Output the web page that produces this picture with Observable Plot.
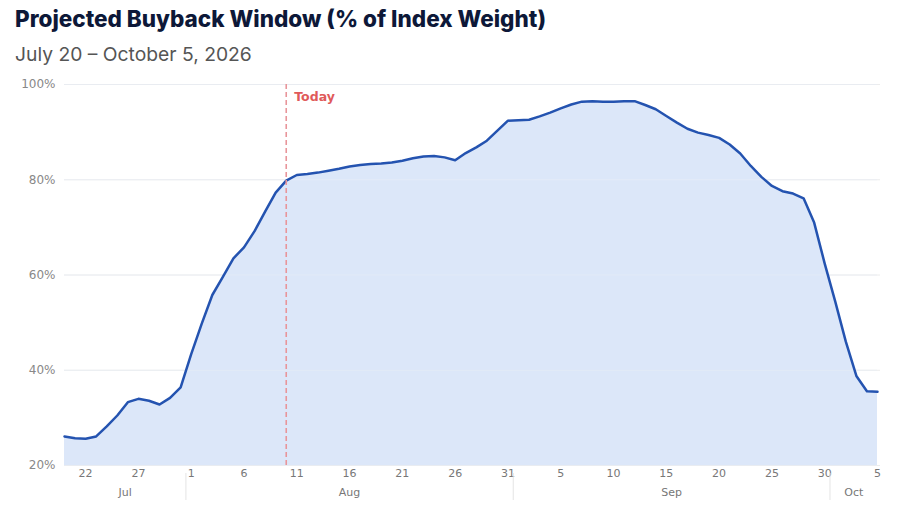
<!DOCTYPE html>
<html><head><meta charset="utf-8">
<script src="https://cdn.jsdelivr.net/npm/d3@7"></script>
<script src="https://cdn.jsdelivr.net/npm/@observablehq/plot@0.6"></script>
<style>
body{margin:0;background:#fff;width:905px;height:520px;overflow:hidden;font-family:"DejaVu Sans",sans-serif}
#title{position:absolute;left:15px;top:5px;font:800 22.5px Inter,sans-serif;color:#0d1838;white-space:nowrap}
#sub{position:absolute;left:15px;top:42px;font:400 19.3px Inter,sans-serif;color:#555;white-space:nowrap}
#chart{position:absolute;left:0;top:76px}
</style></head><body>
<div id="title">Projected Buyback Window (% of Index Weight)</div>
<div id="sub">July 20 – October 5, 2026</div>
<div id="chart"></div>
<script>
const startDate = "2026-07-20";
const endDate = "2026-10-05";
const todayDate = "2026-08-10";
// daily values, Jul 20 .. Oct 5
const values = [
  26.1, 25.7, 25.6, 26.1, 28.2, 30.5, 33.3, 34.0, 33.6, 32.8, 34.2, 36.4,
  43.4, 49.8, 55.8, 59.6, 63.5, 65.8, 69.2, 73.3, 77.3, 79.8, 81.0, 81.2,
  81.5, 81.9, 82.3, 82.8, 83.1, 83.3, 83.4, 83.6, 84.0, 84.5, 84.9, 85.0,
  84.7, 84.1, 85.6, 86.8, 88.2, 90.3, 92.4, 92.5, 92.6, 93.3, 94.1, 95.0,
  95.8, 96.4, 96.5, 96.4, 96.4, 96.5, 96.5, 95.7, 94.8, 93.4, 92.0, 90.7,
  89.9, 89.4, 88.8, 87.4, 85.5, 82.9, 80.6, 78.7, 77.6, 77.1, 76.1, 71.0,
  62.4, 54.4, 46.0, 38.8, 35.6, 35.5
];
const yTicks = [20, 40, 60, 80, 100];
const dayTickDates = ["2026-07-22","2026-07-27","2026-08-01","2026-08-06","2026-08-11","2026-08-16","2026-08-21","2026-08-26","2026-08-31","2026-09-05","2026-09-10","2026-09-15","2026-09-20","2026-09-25","2026-09-30","2026-10-05"];
const monthNames = ["Jul", "Aug", "Sep", "Oct"];
const monthStarts = ["2026-07-01", "2026-08-01", "2026-09-01", "2026-10-01"];

const start = new Date(startDate + "T00:00Z");
const end = new Date(endDate + "T00:00Z");
const today = new Date(todayDate + "T00:00Z");
const data = values.map((v, i) => ({date: d3.utcDay.offset(start, i), value: v}));
const dayTicks = dayTickDates.map(s => new Date(s + "T00:00Z"));
const half = 12 * 3600 * 1000;
// month boundaries at half-day between last and first day
const bounds = monthStarts.slice(1).map(s => new Date(new Date(s + "T00:00Z") - half));
const monthMids = monthStarts.map((s, i) => {
  const a = Math.max(+start, +new Date(s + "T00:00Z") - half);
  const b = i < monthStarts.length - 1 ? +bounds[i] : +end;
  return {date: new Date((a + b) / 2), name: monthNames[i]};
});

const curve = "linear";
const chart = Plot.plot({
  width: 905,
  height: 444,
  marginTop: 8,
  marginBottom: 55,
  marginLeft: 64,
  marginRight: 28,
  style: {fontFamily: "DejaVu Sans, sans-serif", background: "transparent", overflow: "visible"},
  x: {type: "utc", domain: [start, end], label: null},
  y: {domain: [20, 100], label: null},
  marks: [
    Plot.gridY(yTicks, {stroke: "#ececec", strokeOpacity: 1, insetRight: -3}),
    Plot.areaY(data, {x: "date", y1: 20, y2: "value", fill: "#dce7f9", curve}),
    Plot.gridY(yTicks, {stroke: "#e8edf5", strokeOpacity: 0.6}),
    Plot.lineY(data, {x: "date", y: "value", stroke: "#2453b0", strokeWidth: 2.5, strokeLinejoin: "round", curve}),
    Plot.ruleX([today], {stroke: "#e8959a", strokeDasharray: "5,3", strokeWidth: 1.6}),
    Plot.text(["Today"], {x: today, frameAnchor: "top", dx: 8, dy: 8, textAnchor: "start", fill: "#e05a5a", fontWeight: "bold", fontSize: 12.5}),
    Plot.axisY(yTicks, {tickSize: 0, tickPadding: 9, tickFormat: d => d + "%", fill: "#888", fontSize: 12}),
    Plot.axisX(dayTicks, {tickSize: 0, tickPadding: 4, tickFormat: d => d.getUTCDate(), fill: "#777", fontSize: 11}),
    Plot.axisX(bounds, {tickSize: 27, dy: 8, tickFormat: () => "", stroke: "#e4e4e4"}),
    Plot.text(monthMids, {x: "date", text: "name", frameAnchor: "bottom", dy: 30, fill: "#777", fontSize: 11})
  ]
});
document.getElementById("chart").appendChild(chart);
</script>
</body></html>
